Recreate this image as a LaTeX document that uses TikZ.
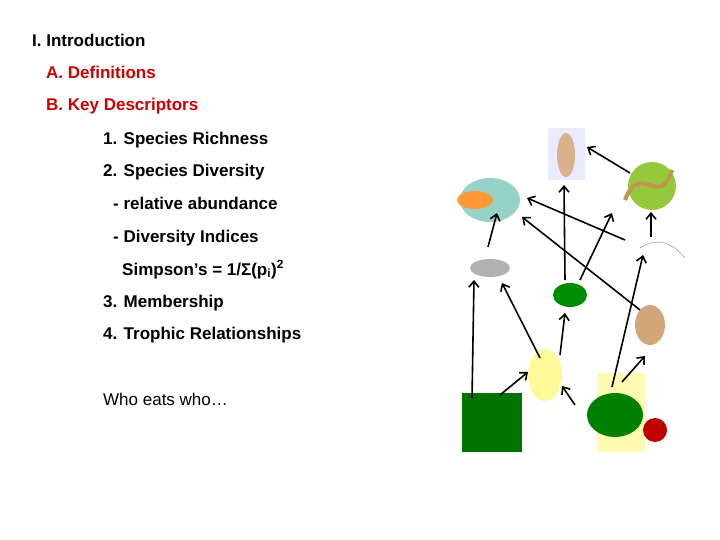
\documentclass[tikz,border=0pt]{standalone}
\usepackage{fontspec}
\setmainfont{Liberation Sans}
\usetikzlibrary{arrows.meta}
\definecolor{slidered}{RGB}{204,0,0}
\definecolor{foxbg}{RGB}{150,210,200}
\definecolor{snakebg}{RGB}{150,200,60}
\definecolor{snakebody}{RGB}{190,150,80}
\begin{document}
\begin{tikzpicture}[x=1pt,y=-1pt,
  txt/.style={anchor=base west,inner sep=0,font=\fontsize{17}{19}\selectfont\bfseries},
  redtxt/.style={txt,text=slidered},
  arr/.style={-{Straight Barb[length=6pt,width=10pt]},line width=1.6pt}]
\useasboundingbox (0,0) rectangle (720,540);
\node[txt] (t1) at (32,47) {I. Introduction};
\node[redtxt] (t2) at (46,79) {A. Definitions};
\node[redtxt] (t3) at (46,111) {B. Key Descriptors};
\node[txt] (t4) at (103,145) {1. Species Richness};
\node[txt] (t5) at (103,177) {2. Species Diversity};
\node[txt] (t6) at (113,210) {- relative abundance};
\node[txt] (t7) at (113,242) {- Diversity Indices};
\node[txt] (t8) at (122,275) {Simpson’s = 1/Σ(p\textsubscript{i})\textsuperscript{2}};
\node[txt] (t9) at (103,307) {3. Membership};
\node[txt] (t10) at (103,339) {4. Trophic Relationships};
\node[txt,font=\fontsize{17}{19}\selectfont] (t11) at (103,405) {Who eats who…};
% organisms
\fill[foxbg] (490,200) ellipse (30 and 22);
\fill[orange!80] (475,200) ellipse (18 and 9);
\fill[blue!8] (548,128) rectangle (585,180);
\fill[brown!60] (566,155) ellipse (9 and 22);
\fill[snakebg] (652,186) circle (24);
\draw[snakebody,line width=4pt] (625,200) .. controls (640,160) and (660,210) .. (672,170);
\draw[gray] (640,248) .. controls (655,238) and (670,240) .. (685,258);
\fill[gray!60] (490,268) ellipse (20 and 9);
\fill[green!55!black] (570,295) ellipse (17 and 12);
\fill[brown!70] (650,325) ellipse (15 and 20);
\fill[yellow!40] (545,375) ellipse (17 and 26);
\fill[green!45!black] (462,393) rectangle (522,452);
\fill[yellow!30] (597,373) rectangle (645,452);
\fill[green!50!black] (615,415) ellipse (28 and 22);
\fill[red!75!black] (655,430) circle (12);
% endpoints
\coordinate (a1) at (488,247); \coordinate (b1) at (497,213);
\coordinate (a2) at (625,240); \coordinate (b2) at (527,198);
\coordinate (a3) at (640,310); \coordinate (b3) at (522,217);
\coordinate (a4) at (565,280); \coordinate (b4) at (564,185);
\coordinate (a5) at (580,280); \coordinate (b5) at (612,213);
\coordinate (a6) at (630,173); \coordinate (b6) at (587,147);
\coordinate (a7) at (651,237); \coordinate (b7) at (651,212);
\coordinate (a8) at (472,398); \coordinate (b8) at (474,280);
\coordinate (a9) at (540,358); \coordinate (b9) at (502,283);
\coordinate (a10) at (500,395); \coordinate (b10) at (528,372);
\coordinate (a11) at (560,355); \coordinate (b11) at (565,313);
\coordinate (a12) at (575,405); \coordinate (b12) at (562,386);
\coordinate (a13) at (612,387); \coordinate (b13) at (643,255);
\coordinate (a14) at (622,382); \coordinate (b14) at (645,356);
\foreach \i in {1,...,14} \draw[arr] (a\i) -- (b\i);
\end{tikzpicture}
\end{document}
